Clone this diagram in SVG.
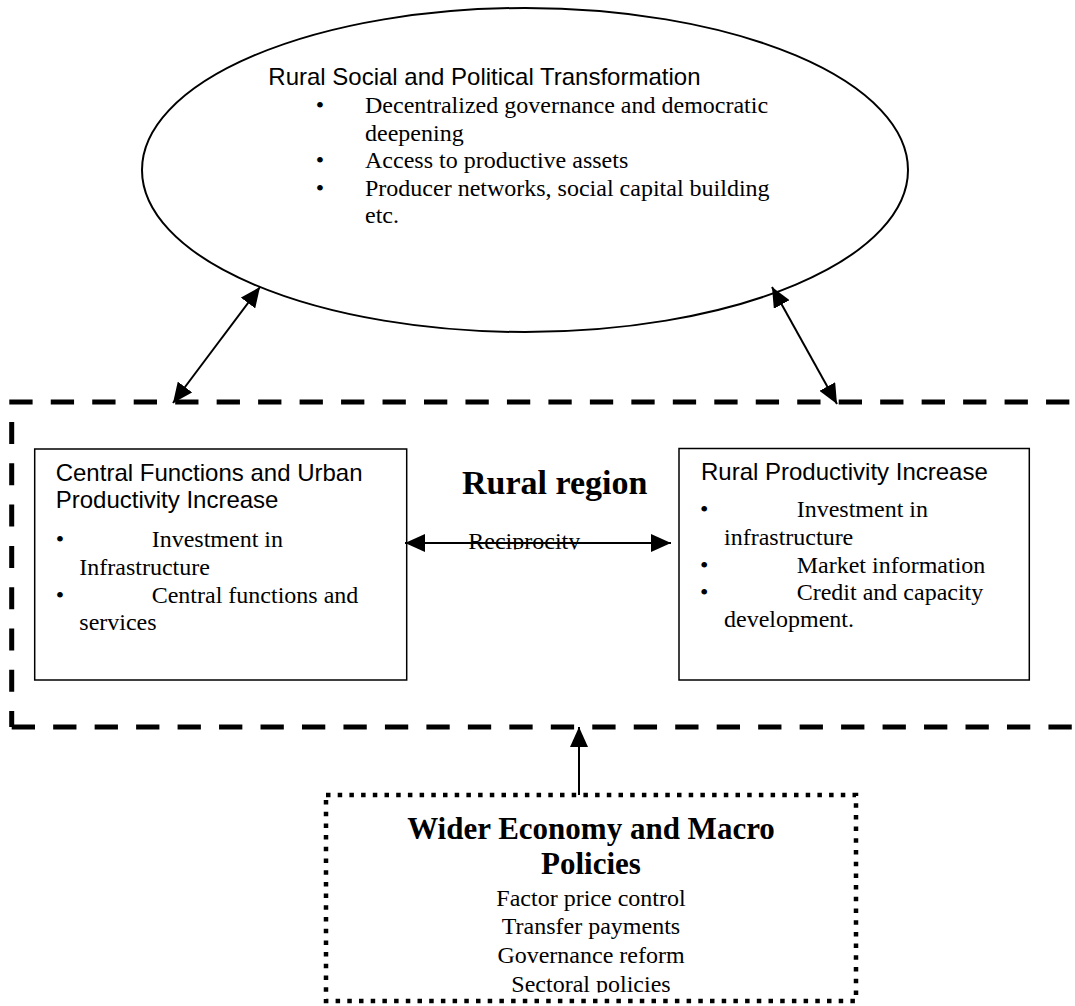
<svg xmlns="http://www.w3.org/2000/svg" width="1075" height="1006" viewBox="0 0 1075 1006">
<style>
.arial{font-family:"Liberation Sans",Arial,sans-serif;font-size:24px;fill:#000}
.times{font-family:"Liberation Serif","Times New Roman",serif;font-size:24px;fill:#000}
.region{font-family:"Liberation Serif","Times New Roman",serif;font-size:34px;font-weight:bold;fill:#000}
.head{font-family:"Liberation Serif","Times New Roman",serif;font-size:31px;font-weight:bold;fill:#000}
.box{fill:#fff;stroke:#000;stroke-width:1.5}
.conn{stroke:#000;stroke-width:2;fill:none}
.dash{stroke:#000;stroke-width:5;fill:none;stroke-dasharray:23.3 18.17}
.dot{fill:#fff;stroke:#000;stroke-width:4.5;stroke-dasharray:4.5 7.2}
</style>
<defs>
<marker id="ah" viewBox="0 0 20 18" refX="20" refY="9" markerWidth="20" markerHeight="18" markerUnits="userSpaceOnUse" orient="auto-start-reverse"><path d="M0,0 L20,9 L0,18 z" fill="#000"/></marker>
<clipPath id="recClip"><rect x="400" y="520" width="280" height="29.5"/></clipPath>
<clipPath id="wClip"><rect x="326" y="795" width="530" height="197.5"/></clipPath>
</defs>
<rect width="1075" height="1006" fill="#fff"/>

<g id="social">
<ellipse cx="525" cy="170" rx="383" ry="162" fill="#fff" stroke="#000" stroke-width="2"/>
<text class="arial" x="268.3" y="85">Rural Social and Political Transformation</text>
<text class="times" x="320" y="113" text-anchor="middle">•</text>
<text class="times" x="365" y="113">Decentralized governance and democratic</text>
<text class="times" x="365" y="140.6">deepening</text>
<text class="times" x="320" y="168.2" text-anchor="middle">•</text>
<text class="times" x="365" y="168.2">Access to productive assets</text>
<text class="times" x="320" y="195.8" text-anchor="middle">•</text>
<text class="times" x="365" y="195.8">Producer networks, social capital building</text>
<text class="times" x="365" y="223.4">etc.</text>
</g>

<g id="rural-region">
<path class="dash" d="M9.3 402 H1080"/>
<path class="dash" d="M11.7 727 H1080"/>
<path d="M11.7 422 V727" stroke="#000" stroke-width="5" fill="none" stroke-dasharray="22 19.3"/>
<text class="region" x="462" y="494">Rural region</text>
</g>

<g id="central">
<rect class="box" x="34.7" y="449" width="372" height="231"/>
<text class="arial" x="55.7" y="480.7">Central Functions and Urban</text>
<text class="arial" x="55.7" y="508.3">Productivity Increase</text>
<text class="times" x="60" y="547.3" text-anchor="middle">•</text>
<text class="times" x="151.7" y="547.3">Investment in</text>
<text class="times" x="79.3" y="575">Infrastructure</text>
<text class="times" x="60" y="602.7" text-anchor="middle">•</text>
<text class="times" x="151.7" y="602.7">Central functions and</text>
<text class="times" x="79.3" y="630.4">services</text>
</g>

<g id="productivity">
<rect class="box" x="679" y="448.5" width="350.3" height="231.5"/>
<text class="arial" x="701" y="480">Rural Productivity Increase</text>
<text class="times" x="704.3" y="517.3" text-anchor="middle">•</text>
<text class="times" x="796.7" y="517.3">Investment in</text>
<text class="times" x="724" y="544.5">infrastructure</text>
<text class="times" x="704.3" y="572.5" text-anchor="middle">•</text>
<text class="times" x="796.7" y="572.5">Market information</text>
<text class="times" x="704.3" y="600" text-anchor="middle">•</text>
<text class="times" x="796.7" y="600">Credit and capacity</text>
<text class="times" x="724" y="627.4">development.</text>
</g>

<g id="wider">
<rect class="dot" x="326" y="795" width="530" height="206"/>
<g clip-path="url(#wClip)">
<text class="head" x="591" y="839" text-anchor="middle">Wider Economy and Macro</text>
<text class="head" x="591" y="874" text-anchor="middle">Policies</text>
<text class="times" x="591" y="905.7" text-anchor="middle">Factor price control</text>
<text class="times" x="591" y="934.4" text-anchor="middle">Transfer payments</text>
<text class="times" x="591" y="963.2" text-anchor="middle">Governance reform</text>
<text class="times" x="591" y="992" text-anchor="middle">Sectoral policies</text>
</g>
</g>

<g id="reciprocity-label">
<text class="times" x="468.3" y="549.2" clip-path="url(#recClip)">Reciprocity</text>
</g>

<g id="connectors">
<line class="conn" x1="173" y1="403" x2="260" y2="287" marker-start="url(#ah)" marker-end="url(#ah)"/>
<line class="conn" x1="772" y1="287" x2="837" y2="404" marker-start="url(#ah)" marker-end="url(#ah)"/>
<line class="conn" x1="405" y1="543" x2="671" y2="543" marker-start="url(#ah)" marker-end="url(#ah)"/>
<line class="conn" x1="579" y1="795" x2="579" y2="727" marker-end="url(#ah)"/>
</g>
</svg>
